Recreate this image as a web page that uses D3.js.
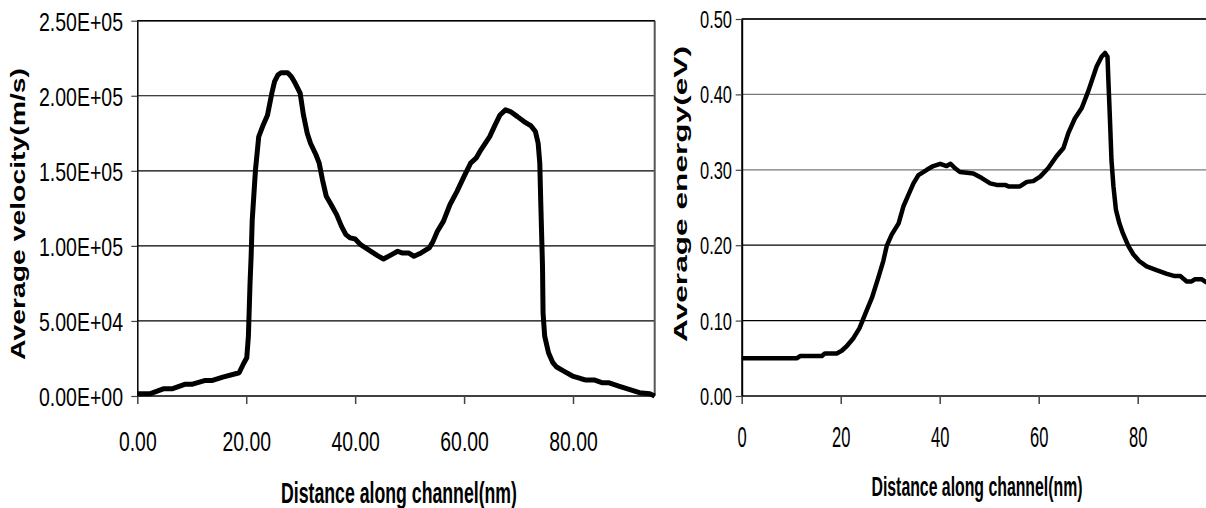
<!DOCTYPE html>
<html><head><meta charset="utf-8">
<script src="https://cdn.jsdelivr.net/npm/d3@7"></script>
<style>body{margin:0;background:#fff}svg{display:block}</style>
</head><body>
<svg id="c" width="1206" height="508"></svg>
<script>
// ---- Data: left chart (velocity) ----
const velX = [0,2.4,4.9,6.5,8.7,10,12.5,13.8,15.7,18.2,18.7,19.5,20.1,20.4,20.7,20.9,21.1,21.7,22.3,23,23.9,24.7,25.2,25.8,26.4,27.6,28.3,29,29.9,30.5,31.2,31.8,32.8,33.4,34,34.7,35.6,36.6,37.5,38.3,39.1,40,41,42.9,44.1,45.2,46.7,47.8,48.6,49.8,50.8,52.1,53.6,54.3,55.1,56.2,57.4,58.7,60,61.2,62.2,63.1,64.1,64.7,65.7,66.6,67.6,68.5,69.8,71,72.3,73.1,73.6,73.9,74.1,74.4,74.5,74.8,75.5,76.3,77,78.3,79.9,81.5,82.4,84,85.3,86.5,88.4,90.3,92.2,94.1,95];
const velY = [1550,1550,4900,4900,7750,7750,10400,10400,12600,15000,15500,21500,25500,39900,75300,93000,117000,150700,172800,179500,187000,201700,209400,213800,215400,215400,212700,208300,201700,187300,175000,168400,160700,155100,144000,133000,127400,120800,113000,107500,105300,104600,100800,96400,93500,91300,94200,96400,95300,95300,93100,95300,98600,103000,109700,116300,127400,136300,146300,155100,158400,164000,169500,172800,180600,187200,190600,189500,186100,182800,179900,176200,168400,155100,126300,86400,55400,39900,28800,22200,19300,16600,13300,11500,10600,10600,8900,8900,6600,4400,2200,1550,0];
const velTicksY = [0,50000,100000,150000,200000,250000];
const velTickLabelsY = ["0.00E+00","5.00E+04","1.00E+05","1.50E+05","2.00E+05","2.50E+05"];
const velTicksX = [0,20,40,60,80];
const velTickLabelsX = ["0.00","20.00","40.00","60.00","80.00"];

// ---- Data: right chart (energy) ----
const enX = [0,11.1,11.8,16.2,16.8,19.2,20.2,21.2,22.6,23.8,24.9,26.3,27.6,28.6,29.3,30.3,31.7,32.7,33.7,34.7,35.7,37.4,38.7,40.1,41.4,42.2,43.1,44.1,45.5,46.8,48.5,50.2,51.5,53.2,53.9,56.2,57.6,58.9,60.3,61.9,63.6,65,66,67.3,68.7,70,71.7,72.7,73.4,73.9,74.1,74.4,74.7,75.1,75.6,76.3,77,78.1,79.1,80.3,81.8,83.8,85.9,87.5,88.6,89.9,90.9,91.6,92.9,93.8,95];
const enY = [0.05,0.05,0.053,0.053,0.0565,0.0565,0.060,0.066,0.077,0.090,0.108,0.130,0.157,0.179,0.199,0.214,0.229,0.252,0.267,0.282,0.293,0.300,0.305,0.308,0.305,0.308,0.302,0.297,0.296,0.295,0.289,0.282,0.280,0.280,0.278,0.278,0.284,0.285,0.291,0.302,0.318,0.329,0.349,0.368,0.382,0.404,0.437,0.450,0.455,0.450,0.415,0.366,0.313,0.278,0.247,0.229,0.216,0.199,0.188,0.179,0.172,0.167,0.162,0.159,0.159,0.152,0.152,0.155,0.155,0.151,0.149];
const enTicksY = [0,0.1,0.2,0.3,0.4,0.5];
const enTickLabelsY = ["0.00","0.10","0.20","0.30","0.40","0.50"];
const enTicksX = [0,20,40,60,80];
const enTickLabelsX = ["0","20","40","60","80"];

const svg = d3.select("#c");
const FONT = "'Liberation Sans', Arial, sans-serif";

function squeeze(sel, sx){
  sel.each(function(){
    const L = this.getComputedTextLength();
    d3.select(this).attr("textLength", L*sx).attr("lengthAdjust","spacingAndGlyphs");
  });
}

function drawChart(o){
  const g = svg.append("g");
  const x = d3.scaleLinear().domain(o.xDomain).range(o.xRange);
  const y = d3.scaleLinear().domain(o.yDomain).range(o.yRange);
  const right = Math.min(x.range()[1], 1206);
  g.append("g").selectAll("line").data(o.yTicks.filter(d=>d!==0)).join("line")
    .attr("x1", x.range()[0]).attr("x2", right)
    .attr("y1", d=>y(d)).attr("y2", d=>y(d))
    .attr("stroke", d=>o.gridColor(d)).attr("stroke-width", o.gridWidth);
  if (o.rightBorder){
    g.append("line").attr("x1", right).attr("x2", right)
      .attr("y1", y.range()[1]).attr("y2", y.range()[0])
      .attr("stroke","#555").attr("stroke-width",2);
  }
  const xa = g.append("g").attr("transform",`translate(0,${y.range()[0]})`)
    .call(d3.axisBottom(x).tickValues(o.xTicks).tickFormat((d,i)=>o.xLabels[i]).tickSize(8).tickSizeOuter(0));
  xa.select(".domain").attr("d", `M${x.range()[0]},0H${right}`).attr("stroke","#000").attr("stroke-width",1.5);
  xa.selectAll(".tick line").attr("stroke","#444").attr("stroke-width",1.5);
  xa.selectAll(".tick text").attr("font-family",FONT).attr("font-size",o.xFont)
    .attr("fill","#000").attr("y", o.xLabelBase - y.range()[0]).attr("dy",0).call(squeeze, o.xSq);
  const ya = g.append("g").attr("transform",`translate(${x.range()[0]},0)`)
    .call(d3.axisLeft(y).tickValues(o.yTicks).tickFormat((d,i)=>o.yLabels[i]).tickSize(o.yTick).tickSizeOuter(0));
  ya.select(".domain").attr("stroke","#000").attr("stroke-width",o.yAxisW);
  ya.selectAll(".tick line").attr("stroke","#444").attr("stroke-width",1.2);
  ya.selectAll(".tick text").attr("font-family",FONT).attr("font-size",o.yFont)
    .attr("fill","#000").attr("x", o.yLabelEnd - x.range()[0]).attr("dy","0.36em").call(squeeze, o.ySq);
  g.append("line").attr("x1",x.range()[0]).attr("x2",right)
    .attr("y1",y.range()[1]).attr("y2",y.range()[1]).attr("stroke","#000").attr("stroke-width",1.5);
  const data = o.xs.map((v,i)=>[v,o.ys[i]]);
  g.append("path").datum(data)
    .attr("d", d3.line().x(d=>x(d[0])).y(d=>y(d[1])))
    .attr("fill","none").attr("stroke","#000").attr("stroke-width",o.lineW)
    .attr("stroke-linejoin","round").attr("stroke-linecap","butt");
  g.append("text").text(o.xTitle).attr("x",o.xTitlePos[0]).attr("y",o.xTitlePos[1])
    .attr("text-anchor","middle").attr("font-family",FONT).attr("font-weight","bold")
    .attr("font-size",o.xTitleFont).attr("textLength",o.xTitleLen).attr("lengthAdjust","spacingAndGlyphs");
  g.append("text").text(o.yTitle)
    .attr("transform",`translate(${o.yTitlePos[0]},${o.yTitlePos[1]}) rotate(-90)`)
    .attr("text-anchor","middle").attr("font-family",FONT).attr("font-weight","bold")
    .attr("font-size",o.yTitleFont).attr("textLength",o.yTitleLen).attr("lengthAdjust","spacingAndGlyphs");
}

drawChart({
  xs: velX, ys: velY,
  xDomain:[0,95], xRange:[137.3,654.7],
  yDomain:[0,250000], yRange:[396,20.7],
  yTicks: velTicksY, yLabels: velTickLabelsY,
  xTicks: velTicksX, xLabels: velTickLabelsX,
  gridColor: d=>"#000", gridWidth:1.2, rightBorder:true,
  xFont:28.5, xSq:0.68, xLabelBase:451,
  yFont:26, ySq:0.75, yLabelEnd:123, yTick:6, yAxisW:1.5,
  lineW:5,
  xTitle:"Distance along channel(nm)", xTitlePos:[399,503], xTitleFont:30, xTitleLen:236,
  yTitle:"Average velocity(m/s)", yTitlePos:[25,214], yTitleFont:21, yTitleLen:292
});

drawChart({
  xs: enX, ys: enY,
  xDomain:[0,95], xRange:[741.7,741.7+95*4.95],
  yDomain:[0,0.5], yRange:[396,19],
  yTicks: enTicksY, yLabels: enTickLabelsY,
  xTicks: enTicksX, xLabels: enTickLabelsX,
  gridColor: d=> d>=0.3 ? "#777" : "#000", gridWidth:1.3, rightBorder:false,
  xFont:30, xSq:0.55, xLabelBase:447,
  yFont:23.5, ySq:0.70, yLabelEnd:732, yTick:6, yAxisW:2,
  lineW:4.5,
  xTitle:"Distance along channel(nm)", xTitlePos:[977,496], xTitleFont:28, xTitleLen:211,
  yTitle:"Average energy(eV)", yTitlePos:[687,194], yTitleFont:19, yTitleLen:296
});
</script>
</body></html>
